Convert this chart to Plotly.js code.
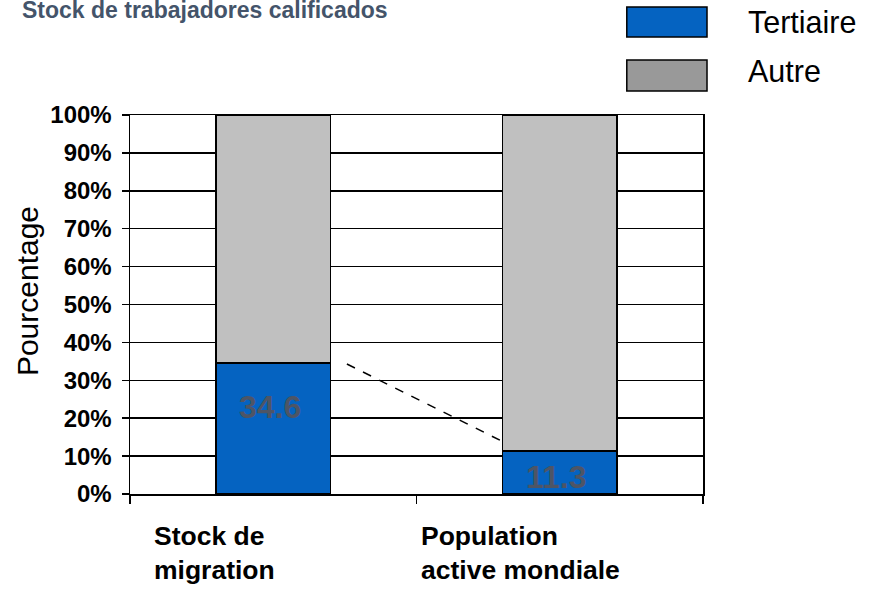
<!DOCTYPE html>
<html>
<head>
<meta charset="utf-8">
<script src="https://cdn.plot.ly/plotly-3.0.1.min.js"></script>
<style>html,body{margin:0;padding:0;background:#fff;}#chart{width:876px;height:591px;}</style>
</head>
<body>
<div id="chart"></div>
<script>
// ---- data ----
const categories = ["Stock de migration", "Population active mondiale"];
const categoryLabels = ["Stock de<br>migration", "Population<br>active mondiale"];
const tertiaire = [34.6, 11.3];
const autre = [65.4, 88.7];
const valueLabels = ["34.6", "11.3"];
const seriesNames = ["Tertiaire", "Autre"];
const yTickVals = [0, 10, 20, 30, 40, 50, 60, 70, 80, 90, 100];
const yTickText = ["0%", "10%", "20%", "30%", "40%", "50%", "60%", "70%", "80%", "90%", "100%"];

// ---- layout constants (positions / styles) ----
const FONT = "Arial, 'Liberation Sans', sans-serif";
const BLUE = "#0563C1";
const GRAY_BAR = "#C0C0C0";
const GRAY_LEG = "#999999";
const labelY = [23.0, 4.6];          // vertical placement of value labels
const catLabelShift = [-121, -141];   // left-shift of category labels
const dash = {x0: 0.257, y0: 34.3, x1: 0.791, y1: 14.2};
const legendTextY = [1.2441, 1.1161];
const legendBoxY = [[1.2058, 1.2850], [1.0633, 1.1451]];

const traces = [
  {
    type: "bar", name: seriesNames[0], x: categories, y: tertiaire,
    marker: {color: BLUE, line: {color: "#000", width: 1.5}},
    width: 0.4, hoverinfo: "y"
  },
  {
    type: "bar", name: seriesNames[1], x: categories, y: autre,
    marker: {color: GRAY_BAR, line: {color: "#000", width: 1.5}},
    width: 0.4, hoverinfo: "y"
  }
];

const annotations = [];
categories.forEach((c, i) => {
  annotations.push({
    xref: "x", yref: "y", x: c, y: labelY[i], text: valueLabels[i],
    showarrow: false, xanchor: "center", yanchor: "middle", xshift: -3,
    font: {family: FONT, size: 32, color: "#4D5566", weight: "bold"}
  });
  annotations.push({
    xref: "x", yref: "paper", x: c, y: 0, text: "<b>" + categoryLabels[i] + "</b>",
    showarrow: false, xanchor: "left", yanchor: "top", align: "left",
    xshift: catLabelShift[i], yshift: -25,
    font: {family: FONT, size: 26.5, color: "#000"}
  });
});
const legendColors = [BLUE, GRAY_LEG];
const shapes = [];
seriesNames.forEach((n, i) => {
  annotations.push({
    xref: "paper", yref: "paper", x: 1.075, y: legendTextY[i], text: n,
    showarrow: false, xanchor: "left", yanchor: "middle",
    font: {family: FONT, size: 30.5, color: "#000"}
  });
  shapes.push({
    type: "rect", xref: "paper", yref: "paper",
    x0: 0.867, x1: 1.007, y0: legendBoxY[i][0], y1: legendBoxY[i][1],
    fillcolor: legendColors[i], line: {color: "#000", width: 1.5}
  });
});
// y axis title
annotations.push({
  xref: "paper", yref: "paper", x: -0.180, y: 0.535, text: "Pourcentage",
  textangle: -90, showarrow: false, xanchor: "center", yanchor: "middle",
  font: {family: FONT, size: 30, color: "#000"}
});
shapes.push({
  type: "line", xref: "x", yref: "y",
  x0: dash.x0, y0: dash.y0, x1: dash.x1, y1: dash.y1,
  line: {color: "#000", width: 1.5, dash: "dash"}
});

const layout = {
  width: 876, height: 591,
  margin: {l: 130, r: 173, t: 115, b: 97},
  paper_bgcolor: "#fff", plot_bgcolor: "#fff",
  barmode: "stack", showlegend: false,
  font: {family: FONT, color: "#000"},
  title: {
    text: "<b>Stock de trabajadores calificados</b>",
    x: 22 / 876, xanchor: "left", xref: "container",
    y: 1 - 10 / 591, yanchor: "middle", yref: "container",
    font: {family: FONT, size: 23, color: "#44546A"}
  },
  xaxis: {
    type: "category", showticklabels: false,
    tickson: "boundaries", ticks: "outside", ticklen: 8, tickwidth: 1.5, tickcolor: "#000",
    showline: true, linecolor: "#000", linewidth: 1.5, mirror: true,
    showgrid: false, zeroline: false, fixedrange: true
  },
  yaxis: {
    range: [0, 100], tickvals: yTickVals, ticktext: yTickText,
    ticks: "outside", ticklen: 7, tickwidth: 1.5, tickcolor: "#000",
    ticklabelstandoff: 5,
    tickfont: {family: FONT, size: 24, color: "#000", weight: "bold"},
    showline: true, linecolor: "#000", linewidth: 1.5, mirror: true,
    showgrid: true, gridcolor: "#000", gridwidth: 1.5,
    zeroline: false, fixedrange: true
  },
  annotations: annotations,
  shapes: shapes
};

Plotly.newPlot("chart", traces, layout, {displayModeBar: false, staticPlot: true});
</script>
</body>
</html>
